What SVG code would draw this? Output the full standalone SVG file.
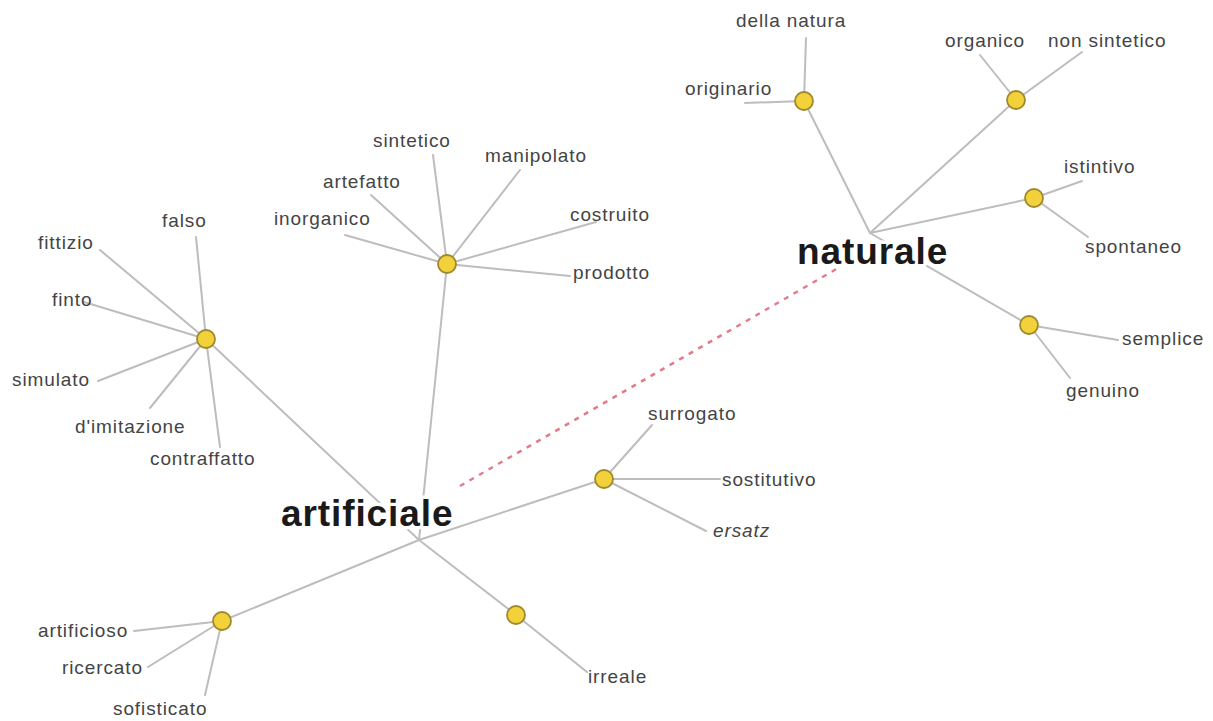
<svg xmlns="http://www.w3.org/2000/svg" width="1213" height="721" viewBox="0 0 1213 721">
<style>
.bg{fill:#ffffff}
.ln{stroke:#bdbdbd;stroke-width:2;fill:none;stroke-linecap:round}
.dash{stroke:#e27a8a;stroke-width:2.5;fill:none;stroke-dasharray:5 6}
.nd{fill:#f3d13a;stroke:#9e8a2c;stroke-width:1.8}
.lb{font-family:"Liberation Sans",Arial,sans-serif;font-size:19px;fill:#444;letter-spacing:0.9px}
.it{font-style:italic}
.big{font-family:"Liberation Sans",Arial,sans-serif;font-size:37px;font-weight:bold;fill:#1a1a1a;letter-spacing:0.9px;stroke:#fff;stroke-width:7;stroke-linejoin:round;paint-order:stroke}
</style>
<rect class="bg" x="0" y="0" width="1213" height="721"/>
<g id="connectors">
<line class="ln" x1="419" y1="540" x2="206" y2="339"/>
<line class="ln" x1="419" y1="540" x2="447" y2="264"/>
<line class="ln" x1="419" y1="540" x2="222" y2="621"/>
<line class="ln" x1="419" y1="540" x2="604" y2="479"/>
<line class="ln" x1="419" y1="540" x2="516" y2="615"/>
<line class="ln" x1="206" y1="339" x2="196" y2="237"/>
<line class="ln" x1="206" y1="339" x2="100" y2="250"/>
<line class="ln" x1="206" y1="339" x2="84" y2="302"/>
<line class="ln" x1="206" y1="339" x2="98" y2="381"/>
<line class="ln" x1="206" y1="339" x2="150" y2="408"/>
<line class="ln" x1="206" y1="339" x2="220" y2="447"/>
<line class="ln" x1="447" y1="264" x2="433" y2="155"/>
<line class="ln" x1="447" y1="264" x2="371" y2="195"/>
<line class="ln" x1="447" y1="264" x2="345" y2="235"/>
<line class="ln" x1="447" y1="264" x2="520" y2="170"/>
<line class="ln" x1="447" y1="264" x2="596" y2="222"/>
<line class="ln" x1="447" y1="264" x2="570" y2="276"/>
<line class="ln" x1="604" y1="479" x2="652" y2="425"/>
<line class="ln" x1="604" y1="479" x2="720" y2="479"/>
<line class="ln" x1="604" y1="479" x2="706" y2="531"/>
<line class="ln" x1="516" y1="615" x2="587" y2="672"/>
<line class="ln" x1="222" y1="621" x2="134" y2="631"/>
<line class="ln" x1="222" y1="621" x2="148" y2="667"/>
<line class="ln" x1="222" y1="621" x2="205" y2="695"/>
<line class="ln" x1="870" y1="233" x2="804" y2="101"/>
<line class="ln" x1="870" y1="233" x2="1016" y2="100"/>
<line class="ln" x1="870" y1="233" x2="1034" y2="198"/>
<line class="ln" x1="870" y1="233" x2="1029" y2="325"/>
<line class="ln" x1="804" y1="101" x2="806" y2="38"/>
<line class="ln" x1="804" y1="101" x2="745" y2="103"/>
<line class="ln" x1="1016" y1="100" x2="980" y2="55"/>
<line class="ln" x1="1016" y1="100" x2="1082" y2="52"/>
<line class="ln" x1="1034" y1="198" x2="1082" y2="181"/>
<line class="ln" x1="1034" y1="198" x2="1088" y2="237"/>
<line class="ln" x1="1029" y1="325" x2="1118" y2="340"/>
<line class="ln" x1="1029" y1="325" x2="1070" y2="378"/>
<line class="dash" x1="460" y1="486" x2="840" y2="267"/>
</g>
<g id="artificiale"><text class="big" x="281" y="526">artificiale</text></g>
<g id="naturale"><text class="big" x="797" y="264">naturale</text></g>
<g id="n-falsita"><circle class="nd" cx="206" cy="339" r="9"/>
<text class="lb" x="162" y="227">falso</text>
<text class="lb" x="38" y="249">fittizio</text>
<text class="lb" x="52" y="306">finto</text>
<text class="lb" x="12" y="386">simulato</text>
<text class="lb" x="75" y="433">d'imitazione</text>
<text class="lb" x="150" y="465">contraffatto</text></g>
<g id="n-sintetico"><circle class="nd" cx="447" cy="264" r="9"/>
<text class="lb" x="373" y="147">sintetico</text>
<text class="lb" x="323" y="188">artefatto</text>
<text class="lb" x="274" y="225">inorganico</text>
<text class="lb" x="485" y="162">manipolato</text>
<text class="lb" x="570" y="221">costruito</text>
<text class="lb" x="573" y="279">prodotto</text></g>
<g id="n-surrogato"><circle class="nd" cx="604" cy="479" r="9"/>
<text class="lb" x="648" y="420">surrogato</text>
<text class="lb" x="722" y="486">sostitutivo</text>
<text class="lb it" x="713" y="537">ersatz</text></g>
<g id="n-irreale"><circle class="nd" cx="516" cy="615" r="9"/>
<text class="lb" x="588" y="683">irreale</text></g>
<g id="n-artificioso"><circle class="nd" cx="222" cy="621" r="9"/>
<text class="lb" x="38" y="637">artificioso</text>
<text class="lb" x="62" y="674">ricercato</text>
<text class="lb" x="113" y="715">sofisticato</text></g>
<g id="n-originario"><circle class="nd" cx="804" cy="101" r="9"/>
<text class="lb" x="736" y="27">della natura</text>
<text class="lb" x="685" y="95">originario</text></g>
<g id="n-organico"><circle class="nd" cx="1016" cy="100" r="9"/>
<text class="lb" x="945" y="47">organico</text>
<text class="lb" x="1048" y="47">non sintetico</text></g>
<g id="n-istintivo"><circle class="nd" cx="1034" cy="198" r="9"/>
<text class="lb" x="1064" y="173">istintivo</text>
<text class="lb" x="1085" y="253">spontaneo</text></g>
<g id="n-semplice"><circle class="nd" cx="1029" cy="325" r="9"/>
<text class="lb" x="1122" y="345">semplice</text>
<text class="lb" x="1066" y="397">genuino</text></g>
</svg>
